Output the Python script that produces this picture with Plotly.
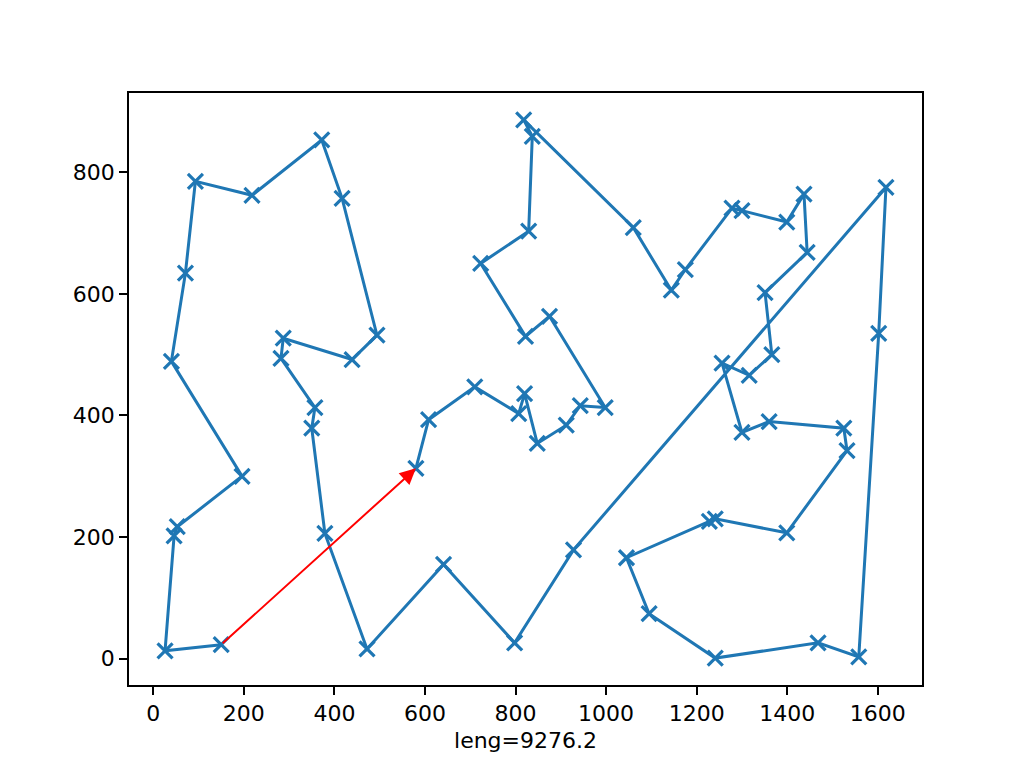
import plotly.graph_objects as go

# ruta del recorrido (orden de visita de las ciudades)
ciudad_x = [580, 608, 710, 807, 820, 848, 912, 943, 998, 875, 822, 723, 829, 837, 818,
            1060, 1144, 1175, 1278, 1300, 1399, 1437, 1444, 1351, 1366, 1316, 1256, 1300,
            1360, 1525, 1532, 1399, 1241, 1228, 1045, 1095, 1241, 1468, 1558, 1602, 1618,
            928, 798, 641, 472, 379, 350, 357, 282, 287, 439, 494, 417, 372, 218, 93, 71,
            40, 196, 53, 46, 26, 150]
ciudad_y = [313, 393, 447, 403, 436, 354, 384, 416, 413, 563, 530, 650, 703, 859, 886,
            709, 606, 640, 741, 737, 718, 764, 668, 602, 500, 466, 486, 372, 390, 379, 342,
            207, 230, 226, 166, 74, 1, 26, 3, 535, 775, 179, 26, 155, 16, 206, 379, 413, 494,
            527, 492, 532, 757, 853, 762, 785, 634, 489, 300, 217, 202, 13, 23]
etiqueta = "leng=9276.2"

azul = "#1f77b4"

fig = go.Figure()
fig.add_trace(go.Scatter(
    x=ciudad_x, y=ciudad_y, mode="lines+markers",
    line=dict(color=azul, width=3),
    marker=dict(symbol="x-thin", size=15, line=dict(color=azul, width=3.2)),
    showlegend=False,
))

# flecha roja: de la ultima ciudad a la primera
fig.add_annotation(
    x=ciudad_x[0], y=ciudad_y[0], ax=ciudad_x[-1], ay=ciudad_y[-1],
    xref="x", yref="y", axref="x", ayref="y",
    showarrow=True, arrowhead=2, arrowsize=1.6, arrowwidth=2,
    arrowcolor="red", standoff=0, text="",
)

# margenes de 5% como matplotlib
dx = (max(ciudad_x) - min(ciudad_x)) * 0.05
dy = (max(ciudad_y) - min(ciudad_y)) * 0.05

eje = dict(showline=True, linecolor="black", linewidth=1.8, mirror=True,
           ticks="outside", ticklen=8, tickwidth=1.8, tickcolor="black",
           showgrid=False, zeroline=False,
           tickfont=dict(family="DejaVu Sans", size=22, color="black"))

fig.update_layout(
    width=1024, height=768,
    margin=dict(l=121, r=110, t=85, b=91),
    paper_bgcolor="white", plot_bgcolor="white",
    xaxis=dict(range=[min(ciudad_x) - dx, max(ciudad_x) + dx], dtick=200,
               title=dict(text=etiqueta, font=dict(family="DejaVu Sans", size=22, color="black"),
                          standoff=7), **eje),
    yaxis=dict(range=[min(ciudad_y) - dy, max(ciudad_y) + dy], dtick=200, **eje),
)

fig.write_html("out.html")
